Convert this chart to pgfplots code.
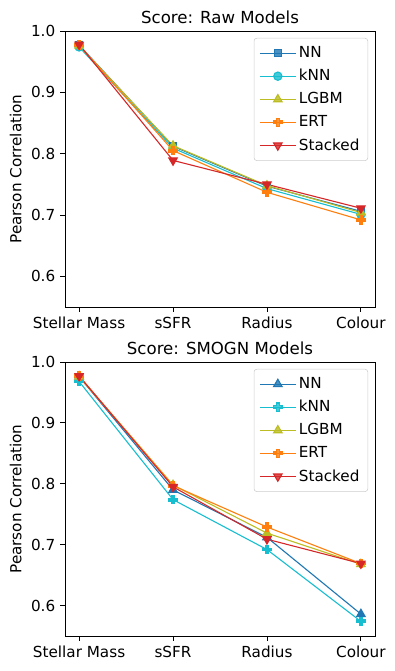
\documentclass[border=0pt]{standalone}
\usepackage{fontspec}
\setmainfont{DejaVu Sans}
\usepackage{pgfplots}
\pgfplotsset{compat=1.18}

% matplotlib colours
\definecolor{mblue}{HTML}{1F77B4}
\definecolor{mcyan}{HTML}{17BECF}
\definecolor{molive}{HTML}{BCBD22}
\definecolor{morange}{HTML}{FF7F0E}
\definecolor{mred}{HTML}{D62728}

% filled plus, like matplotlib's 'P'
\pgfdeclareplotmark{Pplus}{%
  \pgfpathmoveto{\pgfqpoint{-0.333\pgfplotmarksize}{-\pgfplotmarksize}}%
  \pgfpathlineto{\pgfqpoint{0.333\pgfplotmarksize}{-\pgfplotmarksize}}%
  \pgfpathlineto{\pgfqpoint{0.333\pgfplotmarksize}{-0.333\pgfplotmarksize}}%
  \pgfpathlineto{\pgfqpoint{\pgfplotmarksize}{-0.333\pgfplotmarksize}}%
  \pgfpathlineto{\pgfqpoint{\pgfplotmarksize}{0.333\pgfplotmarksize}}%
  \pgfpathlineto{\pgfqpoint{0.333\pgfplotmarksize}{0.333\pgfplotmarksize}}%
  \pgfpathlineto{\pgfqpoint{0.333\pgfplotmarksize}{\pgfplotmarksize}}%
  \pgfpathlineto{\pgfqpoint{-0.333\pgfplotmarksize}{\pgfplotmarksize}}%
  \pgfpathlineto{\pgfqpoint{-0.333\pgfplotmarksize}{0.333\pgfplotmarksize}}%
  \pgfpathlineto{\pgfqpoint{-\pgfplotmarksize}{0.333\pgfplotmarksize}}%
  \pgfpathlineto{\pgfqpoint{-\pgfplotmarksize}{-0.333\pgfplotmarksize}}%
  \pgfpathlineto{\pgfqpoint{-0.333\pgfplotmarksize}{-0.333\pgfplotmarksize}}%
  \pgfpathclose
  \pgfusepathqfillstroke
}

\pgfplotsset{
  scoreaxis/.style={
    scale only axis,
    width=3.10in,
    xmin=-0.15, xmax=3.15,
    ymin=0.55, ymax=1.0,
    xtick={0,1,2,3},
    xticklabels={Stellar Mass,sSFR,Radius,Colour},
    ytick={0.6,0.7,0.8,0.9,1.0},
    yticklabel style={/pgf/number format/fixed,/pgf/number format/fixed zerofill,/pgf/number format/precision=1},
    /pgf/number format/assume math mode=true,
    tick align=outside,
    xtick pos=left, ytick pos=left,
    major tick length=3.5pt,
    tick style={black, line width=0.6pt},
    axis line style={line width=0.6pt},
    ticklabel style={font=\fontsize{11}{13}\selectfont},
    ylabel={Pearson Correlation},
    label style={font=\fontsize{11}{13}\selectfont},
    title style={font=\fontsize{12}{14}\selectfont, yshift=-4pt},
    legend cell align=left,
    legend style={at={(1,1)}, anchor=north east, xshift=-5pt, yshift=-5pt,
      draw=black!20, rounded corners=2pt, fill=white, fill opacity=0.8, text opacity=1,
      font=\fontsize{11}{13}\selectfont, row sep=3pt, inner sep=4pt},
    every axis plot/.append style={line width=0.8pt,
      legend image code/.code={\draw[mark repeat=2,mark phase=2,##1] plot coordinates {(0cm,0cm) (0.45cm,0cm) (0.9cm,0cm)};}},
  },
}

\begin{document}
\begin{tikzpicture}
\useasboundingbox (0,0) rectangle (3.95in,-6.71in);

\begin{axis}[scoreaxis, height=2.76in, at={(0.65in,-3.07in)}, anchor=south west,
  title={Score: Raw Models}]
\addplot[color=mblue, mark=square*, mark size=2.5pt] coordinates {(0,0.977) (1,0.812) (2,0.747) (3,0.706)};
\addlegendentry{NN}
\addplot[color=mcyan, mark=*, mark size=3pt] coordinates {(0,0.974) (1,0.809) (2,0.743) (3,0.701)};
\addlegendentry{kNN}
\addplot[color=molive, mark=triangle*, mark size=3.5pt] coordinates {(0,0.976) (1,0.813) (2,0.748) (3,0.704)};
\addlegendentry{LGBM}
\addplot[color=morange, mark=Pplus, mark size=3pt] coordinates {(0,0.977) (1,0.805) (2,0.737) (3,0.692)};
\addlegendentry{ERT}
\addplot[color=mred, mark=triangle*, mark size=3.5pt, mark options={rotate=180}] coordinates {(0,0.978) (1,0.789) (2,0.750) (3,0.711)};
\addlegendentry{Stacked}
\end{axis}

\begin{axis}[scoreaxis, height=2.74in, at={(0.65in,-6.36in)}, anchor=south west,
  title={Score: SMOGN Models}]
\addplot[color=mblue, mark=triangle*, mark size=3.5pt] coordinates {(0,0.976) (1,0.790) (2,0.712) (3,0.586)};
\addlegendentry{NN}
\addplot[color=mcyan, mark=Pplus, mark size=3pt] coordinates {(0,0.968) (1,0.774) (2,0.692) (3,0.574)};
\addlegendentry{kNN}
\addplot[color=molive, mark=triangle*, mark size=3.5pt] coordinates {(0,0.976) (1,0.798) (2,0.719) (3,0.668)};
\addlegendentry{LGBM}
\addplot[color=morange, mark=Pplus, mark size=3pt] coordinates {(0,0.977) (1,0.797) (2,0.729) (3,0.669)};
\addlegendentry{ERT}
\addplot[color=mred, mark=triangle*, mark size=3.5pt, mark options={rotate=180}] coordinates {(0,0.977) (1,0.795) (2,0.709) (3,0.669)};
\addlegendentry{Stacked}
\end{axis}
\end{tikzpicture}
\end{document}
